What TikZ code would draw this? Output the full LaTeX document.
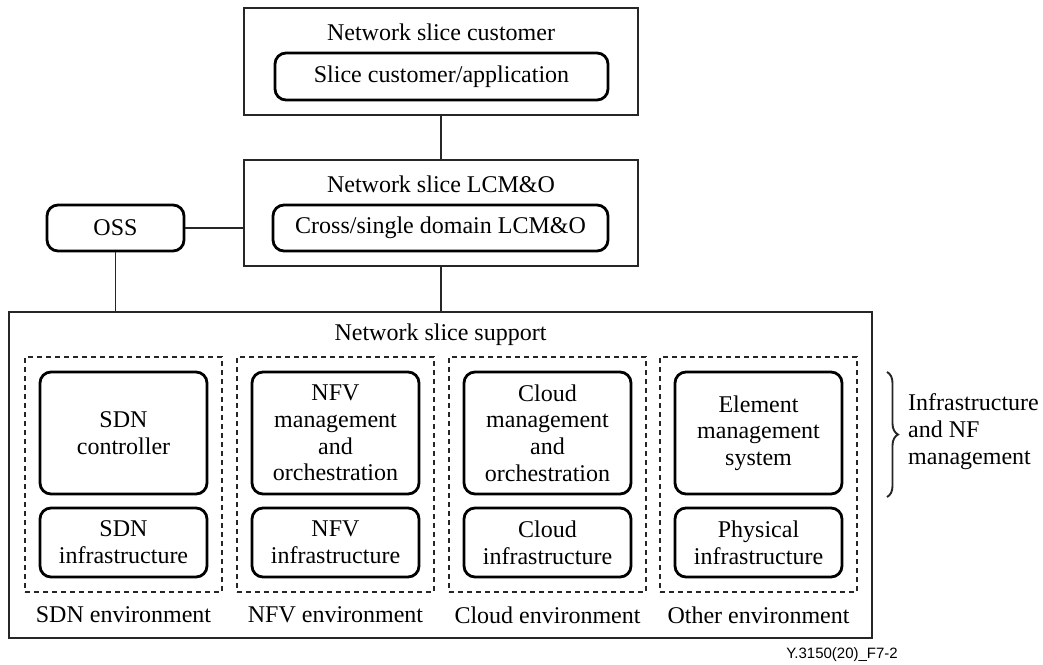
\documentclass[tikz,border=0pt]{standalone}
\usepackage{fontspec}
\setmainfont{Liberation Serif}
\newfontfamily\figfont{Liberation Sans}
\usetikzlibrary{decorations.pathreplacing}
\tikzstyle{layer}=[
	rectangle,
	draw=black!85,
	line width=1.3pt,
	inner sep=0pt
]
\tikzstyle{block}=[
	rectangle,
	rounded corners=11pt,
	draw=black,
	line width=2.8pt,
	align=center,
	inner sep=2pt,
	font=\fontsize{24}{26.7}\selectfont
]
\tikzstyle{environment}=[
	rectangle,
	draw=black!85,
	line width=1.1pt,
	dash pattern=on 5pt off 4pt,
	inner sep=0pt
]
\tikzstyle{caption}=[
	inner sep=0pt,
	align=center,
	font=\fontsize{24}{26.7}\selectfont
]
\tikzstyle{link}=[
	draw=black!85,
	line width=1.3pt
]

\begin{document}
\begin{tikzpicture}[x=1pt,y=-1pt]
\useasboundingbox (0,0) rectangle (1043,664);
% upper layers
\node [layer, minimum width=394pt, minimum height=107pt] (cust) at (441,61.5) {};
\node [caption] (custtitle) at (441,32) {Network slice customer};
\node [block, minimum width=333pt, minimum height=47pt] (custapp) at (441.5,76.5) {Slice customer/application};
\node [layer, minimum width=394pt, minimum height=106pt] (lcmo) at (441,213) {};
\node [caption] (lcmotitle) at (441,184) {Network slice LCM\&O};
\node [block, minimum width=335pt, minimum height=46pt] (xdomain) at (440.5,228) {Cross/single domain LCM\&O};
\node [block, minimum width=137pt, minimum height=46pt] (oss) at (115.5,228) {OSS};
% support layer
\node [layer, minimum width=863pt, minimum height=326pt] (support) at (440.5,475) {};
\node [caption] (supporttitle) at (440.5,335) {Network slice support};
\node [environment, minimum width=197pt, minimum height=235pt] (sdnenv) at (123.5,474.5) {};
\node [environment, minimum width=197pt, minimum height=235pt] (nfvenv) at (335.5,474.5) {};
\node [environment, minimum width=197pt, minimum height=235pt] (cloudenv) at (547.5,474.5) {};
\node [environment, minimum width=197pt, minimum height=235pt] (otherenv) at (758.5,474.5) {};
\node [block, minimum width=167pt, minimum height=122pt] (sdnctrl) at (123.5,433) {SDN\\controller};
\node [block, minimum width=167pt, minimum height=69pt] (sdninfra) at (123.5,542.5) {SDN\\infrastructure};
\node [block, minimum width=167pt, minimum height=122pt] (nfvmano) at (335.5,433) {NFV\\management\\and\\orchestration};
\node [block, minimum width=167pt, minimum height=69pt] (nfvinfra) at (335.5,542.5) {NFV\\infrastructure};
\node [block, minimum width=167pt, minimum height=122pt] (cloudmano) at (547.5,433) {Cloud\\management\\and\\orchestration};
\node [block, minimum width=167pt, minimum height=69pt] (cloudinfra) at (547.5,542.5) {Cloud\\infrastructure};
\node [block, minimum width=167pt, minimum height=122pt] (ems) at (758.5,433) {Element\\management\\system};
\node [block, minimum width=167pt, minimum height=69pt] (physinfra) at (758.5,542.5) {Physical\\infrastructure};
\node [caption] (sdnlabel) at (123.5,615) {SDN environment};
\node [caption] (nfvlabel) at (335.5,615) {NFV environment};
\node [caption] (cloudlabel) at (547.5,615) {Cloud environment};
\node [caption] (otherlabel) at (758.5,615) {Other environment};
% links
\draw [link] (cust.south) -- (lcmo.north);
\draw [link] (oss.east) -- (oss.east -| lcmo.west);
\draw [link] (oss.south) -- (oss.south |- support.north);
\draw [link] (lcmo.south) -- (lcmo.south |- support.north);
% management brace
\coordinate (bracetop) at (887,372);
\coordinate (bracebot) at (887,497);
\draw [link, line width=1.9pt, decorate, decoration={brace, amplitude=11pt}] (bracetop) -- (bracebot);
\node [caption, anchor=west, align=left] (infralabel) at (908,431.5) {Infrastructure\\and NF\\management};
\node [anchor=east, inner sep=0pt, font=\figfont\fontsize{15}{18}\selectfont] (figid) at (898,655) {Y.3150(20)\_F7-2};
\end{tikzpicture}
\end{document}
